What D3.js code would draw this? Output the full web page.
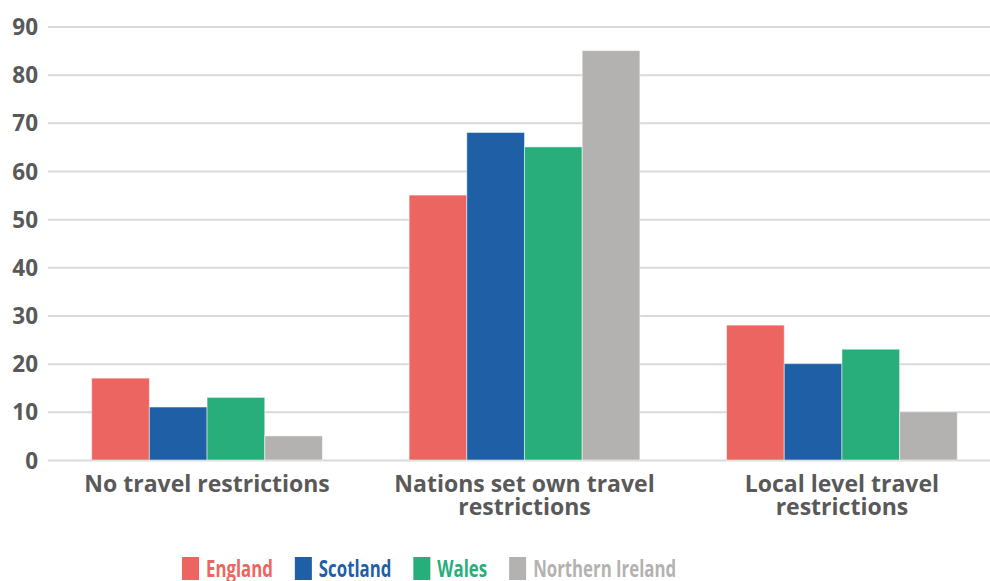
<!DOCTYPE html>
<html><head><meta charset="utf-8">
<script src="https://cdn.jsdelivr.net/npm/d3@7"></script>
<style>
html,body{margin:0;padding:0;background:#fff;}
svg{display:block;}
text{font-family:"Open Sans","Noto Sans",sans-serif;}
</style></head>
<body><svg id="chart" width="990" height="581"></svg>
<script>
const categories = [["No travel restrictions"], ["Nations set own travel", "restrictions"], ["Local level travel", "restrictions"]];
const seriesNames = ["England", "Scotland", "Wales", "Northern Ireland"];
const england = [17, 55, 28];
const scotland = [11, 68, 20];
const wales = [13, 65, 23];
const northernIreland = [5, 85, 10];
const yTicks = [0, 10, 20, 30, 40, 50, 60, 70, 80, 90];
const colors = ["#EC6560", "#1E5FA6", "#27AE7A", "#B3B2B0"];

const seriesValues = [england, scotland, wales, northernIreland];
const svg = d3.select("#chart");
const W = 990, H = 581;
const margin = {left: 48, right: -11, top: 26.5, bottom: 121};

const x0 = d3.scaleBand().domain(d3.range(categories.length))
  .range([margin.left, W - margin.right]).paddingInner(0.273).paddingOuter(0.1376);
const x1 = d3.scaleBand().domain(seriesNames).range([0, x0.bandwidth()]).padding(0);
const y = d3.scaleLinear().domain([0, 90]).range([H - margin.bottom, margin.top]);
const color = d3.scaleOrdinal().domain(seriesNames).range(colors);

// gridlines + y labels
const yAxis = d3.axisLeft(y).tickValues(yTicks).tickSize(-(W - margin.right - margin.left)).tickPadding(10);
const gy = svg.append("g").attr("transform", `translate(${margin.left},0)`).call(yAxis);
gy.select(".domain").remove();
gy.selectAll(".tick line").attr("stroke", "#d9d9d9").attr("stroke-width", 2);
gy.selectAll(".tick text").attr("fill", "#595959").attr("font-size", 22.5).attr("font-weight", 700)
  .attr("x", -10).attr("dy", "0.36em");

// bars
const groups = svg.append("g").selectAll("g").data(categories.map((c, i) => i)).join("g")
  .attr("transform", i => `translate(${x0(i)},0)`);
groups.selectAll("rect").data(i => seriesNames.map((s, k) => ({s, v: seriesValues[k][i]}))).join("rect")
  .attr("x", d => x1(d.s)).attr("width", x1.bandwidth())
  .attr("y", d => y(d.v)).attr("height", d => y(0) - y(d.v))
  .attr("fill", d => color(d.s)).attr("stroke", "#fff").attr("stroke-opacity", 0.5).attr("stroke-width", 1);

// category labels
const xl = svg.append("g");
categories.forEach((lines, i) => {
  const cx = x0(i) + x0.bandwidth() / 2;
  const t = xl.append("text").attr("text-anchor", "middle")
    .attr("x", cx).attr("y", 492)
    .attr("fill", "#595959").attr("font-size", 23).attr("font-weight", 700);
  lines.forEach((l, j) => t.append("tspan").attr("x", cx).attr("dy", j === 0 ? 0 : 22.7).text(l));
});

// legend
const lg = svg.append("g");
let lx = 182;
const sx = 0.70;
seriesNames.forEach((s, k) => {
  lg.append("rect").attr("x", lx).attr("y", 557).attr("width", 17).attr("height", 23).attr("fill", color(s));
  const tg = lg.append("g").attr("transform", `translate(${lx + 24},577) scale(${sx},1)`);
  const t = tg.append("text").attr("x", 0).attr("y", 0).attr("fill", color(s))
    .attr("font-family", "'Noto Sans', sans-serif")
    .attr("font-size", 24).attr("font-weight", 700).text(s);
  const w = t.node().getComputedTextLength() * sx;
  lx += 24 + w + 22;
});
</script></body></html>
